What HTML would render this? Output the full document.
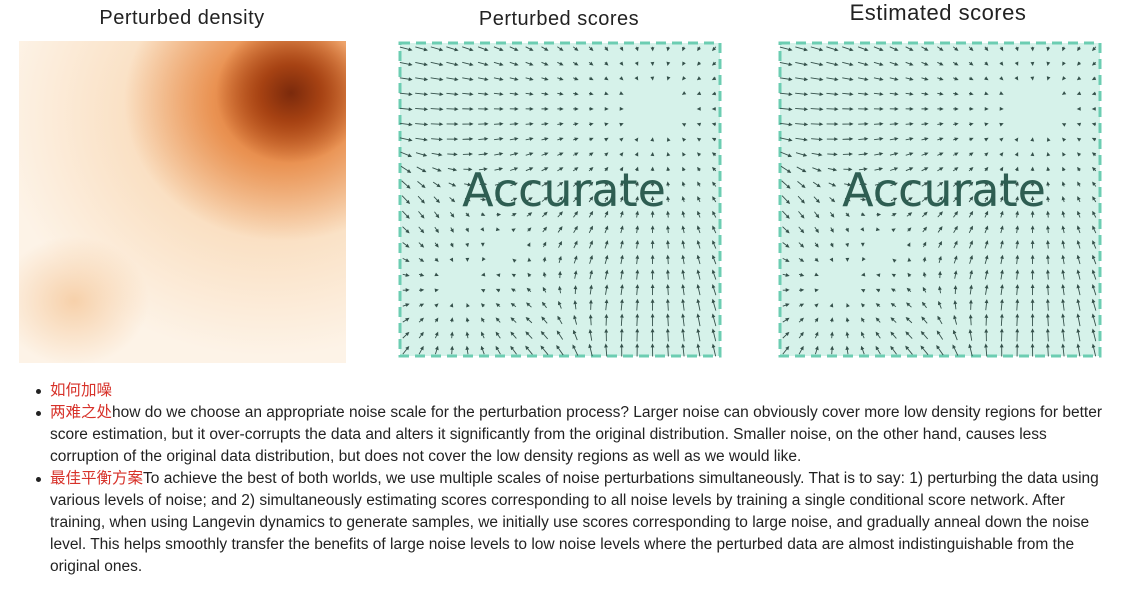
<!DOCTYPE html>
<html><head><meta charset="utf-8"><style>
body{margin:0;width:1125px;height:595px;background:#fff;position:relative;overflow:hidden;font-family:"Liberation Sans","Noto Sans CJK SC",sans-serif}
.t{position:absolute;font-size:20px;color:#222;white-space:nowrap;transform:translateX(-50%);letter-spacing:0.5px}
.ln{position:absolute;left:50px;font-size:15.5px;color:#222;white-space:nowrap;line-height:20px}
.r{color:#d7322a}
.b{position:absolute;left:36px;width:5px;height:5px;border-radius:50%;background:#222}
</style></head><body>
<div class="t" style="left:182px;top:7px">Perturbed density</div>
<div class="t" style="left:559px;top:8px">Perturbed scores</div>
<div class="t" style="left:938px;top:0px;font-size:22px">Estimated scores</div>

<div style="position:absolute;left:19px;top:41px;width:327px;height:322px;background:
radial-gradient(ellipse 75px 70px at 272px 52px,#7b2a0c 0%,rgba(160,60,15,0.9) 40%,rgba(200,90,30,0) 100%),
radial-gradient(ellipse 160px 140px at 265px 60px,#d0621f 0%,rgba(230,130,60,0.8) 45%,rgba(245,190,140,0) 100%),
radial-gradient(ellipse 270px 240px at 250px 75px,rgba(246,200,150,0.9) 0%,rgba(250,230,205,0) 100%),
radial-gradient(ellipse 75px 65px at 55px 260px,rgba(245,200,155,0.8) 0%,rgba(250,225,195,0) 100%),
#fdf3e7"></div>

<svg id="s1" style="position:absolute;left:398px;top:41px" width="324" height="317"></svg>
<svg id="s2" style="position:absolute;left:778px;top:41px" width="324" height="317"></svg>

<div class="b" style="top:389px"></div>
<div class="b" style="top:411px"></div>
<div class="b" style="top:477px"></div>
<div>
<div class="ln" style="top:381px"><span class="r">如何加噪</span></div>
<div class="ln" style="top:403px"><span class="r">两难之处</span>how do we choose an appropriate noise scale for the perturbation process? Larger noise can obviously cover more low density regions for better</div>
<div class="ln" style="top:425px">score estimation, but it over-corrupts the data and alters it significantly from the original distribution. Smaller noise, on the other hand, causes less</div>
<div class="ln" style="top:447px">corruption of the original data distribution, but does not cover the low density regions as well as we would like.</div>
<div class="ln" style="top:469px"><span class="r">最佳平衡方案</span>To achieve the best of both worlds, we use multiple scales of noise perturbations simultaneously. That is to say: 1) perturbing the data using</div>
<div class="ln" style="top:491px">various levels of noise; and 2) simultaneously estimating scores corresponding to all noise levels by training a single conditional score network. After</div>
<div class="ln" style="top:513px">training, when using Langevin dynamics to generate samples, we initially use scores corresponding to large noise, and gradually anneal down the noise</div>
<div class="ln" style="top:535px">level. This helps smoothly transfer the benefits of large noise levels to low noise levels where the perturbed data are almost indistinguishable from the</div>
<div class="ln" style="top:557px">original ones.</div>
</div>
<script>
// mixture components (normalized coords)
const modeX=[0.80,0.18];
const modeY=[0.22,0.78];
const modeW=[0.85,0.12];
const modeS=[0.26,0.18];
const N=21;
function draw(id){
  const svg=document.getElementById(id),ns="http://www.w3.org/2000/svg",W=324,H=317;
  const bg=document.createElementNS(ns,"rect");
  
  
  bg.setAttribute("x",2);bg.setAttribute("y",2);bg.setAttribute("width",W-4);bg.setAttribute("height",H-4);
  bg.setAttribute("fill","#d6f2ea");bg.setAttribute("stroke","#6ccdb2");bg.setAttribute("stroke-width","3");bg.setAttribute("stroke-dasharray","10 6");
  svg.appendChild(bg);
  for(let i=0;i<N;i++)for(let j=0;j<N;j++){
    const x=(i+0.5)/N,y=(j+0.5)/N;let p=0,gx=0,gy=0;
    for(let k=0;k<modeX.length;k++){const dx=modeX[k]-x,dy=modeY[k]-y,s2=modeS[k]*modeS[k];
      const g=modeW[k]*Math.exp(-(dx*dx+dy*dy)/(2*s2));p+=g;gx+=g*dx/s2;gy+=g*dy/s2;}
    gx/=p;gy/=p;let m=Math.hypot(gx,gy);let L=Math.min(12,m*1.2);if(m<1e-6||L<1.5)continue;
    const ux=gx/m,uy=gy/m,cx=x*W,cy=y*H;
    const x1=cx-ux*L/2,y1=cy-uy*L/2,x2=cx+ux*L/2,y2=cy+uy*L/2;
    const a=document.createElementNS(ns,"path");
    
    
    const hx=x2-ux*2.5,hy=y2-uy*2.5;
    a.setAttribute("d",`M${x1},${y1}L${x2},${y2}M${x2},${y2}L${hx-uy*1.2},${hy+ux*1.2}L${hx+uy*1.2},${hy-ux*1.2}Z`);
    a.setAttribute("stroke","#34504a");a.setAttribute("stroke-width","0.9");a.setAttribute("fill","#34504a");
    svg.appendChild(a);
  }
  const t=document.createElementNS(ns,"text");
  
  
  t.setAttribute("x",W/2+4);t.setAttribute("y",165);t.setAttribute("text-anchor","middle");
  t.setAttribute("font-family","DejaVu Sans, sans-serif");t.setAttribute("font-size","46");t.setAttribute("fill","#2e5e52");
  t.textContent="Accurate";svg.appendChild(t);
}
draw("s1");draw("s2");
</script>
</body></html>
